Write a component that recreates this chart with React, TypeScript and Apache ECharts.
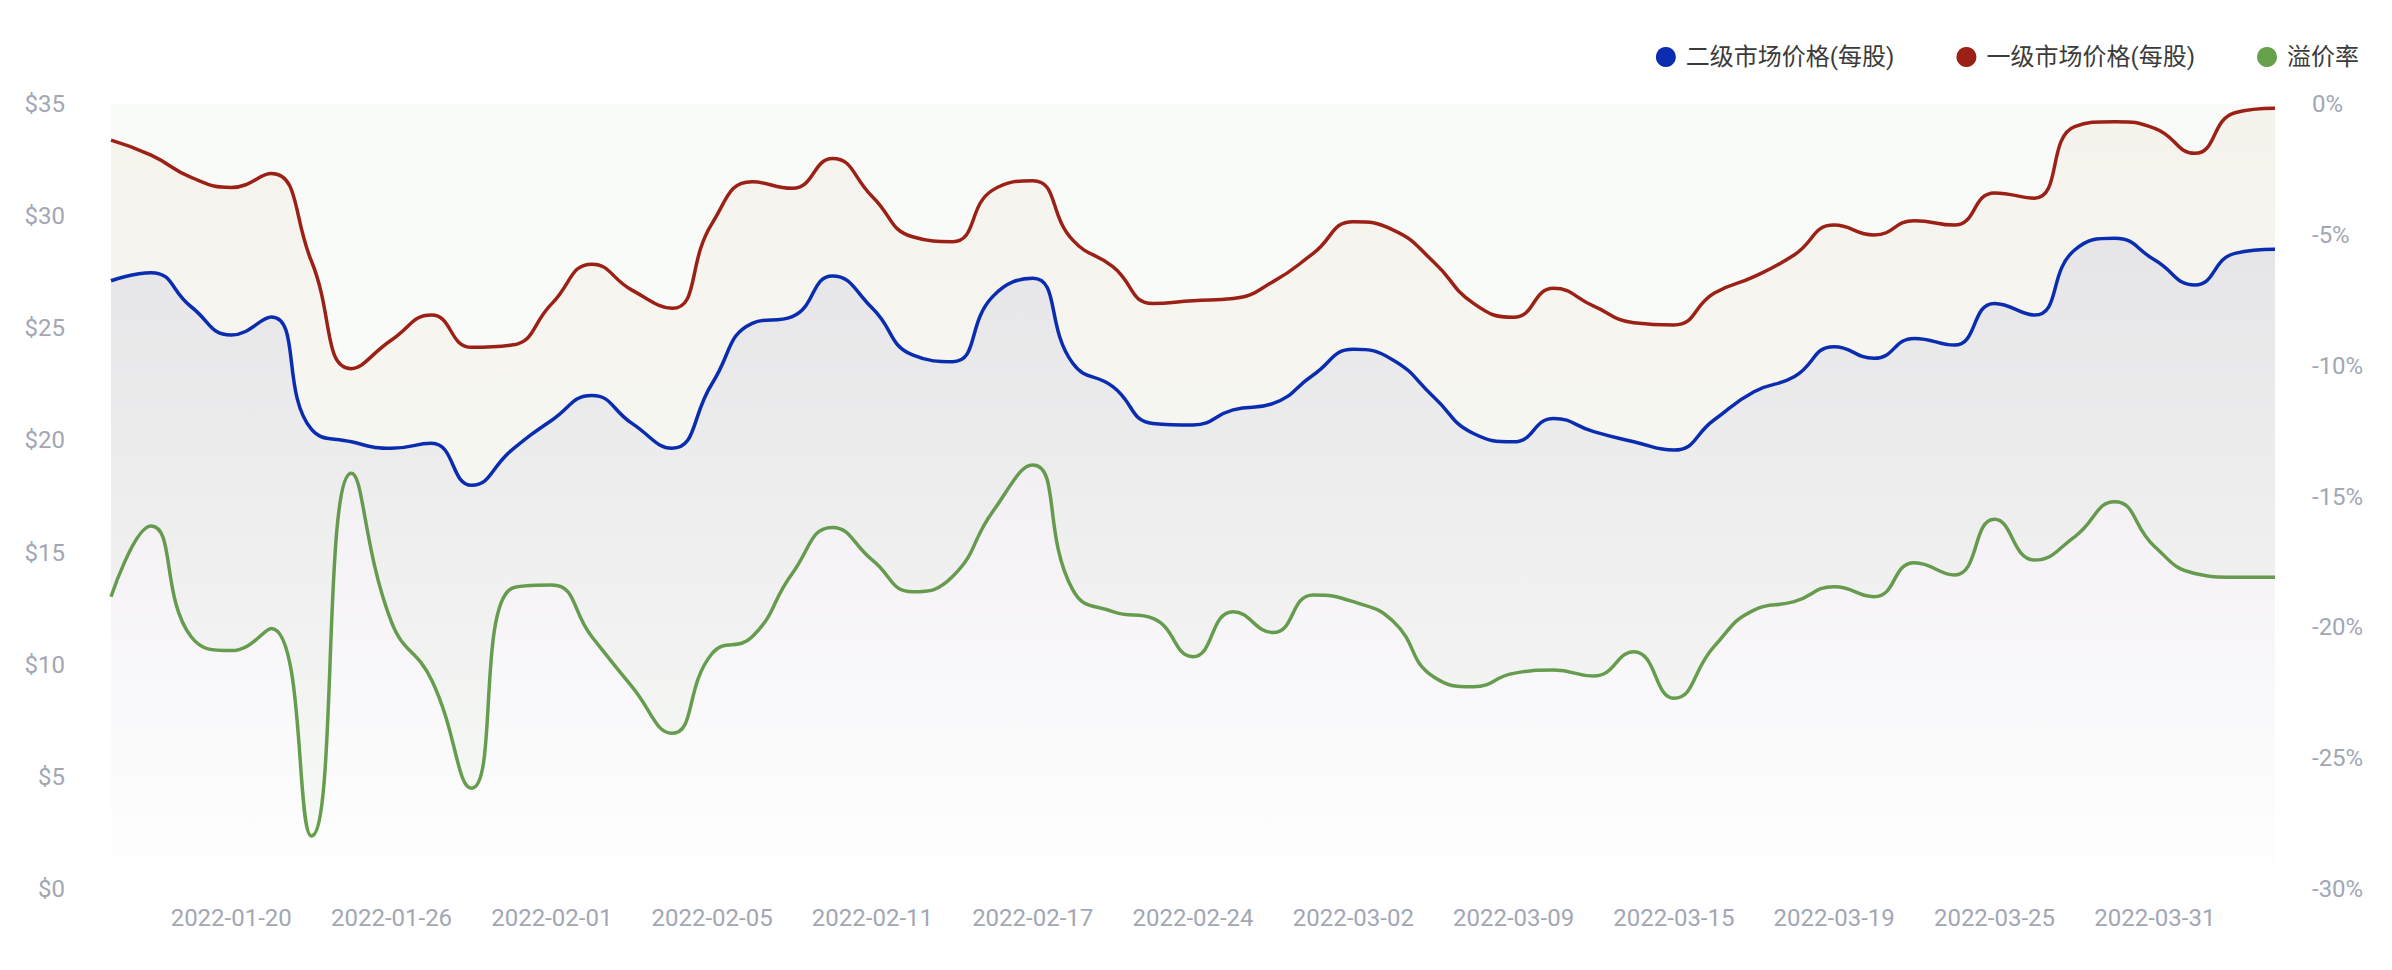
import React, { useEffect, useRef } from "react";
import * as echarts from "echarts";

const dates = [
  "2022-01-14", "2022-01-18", "2022-01-19", "2022-01-20", "2022-01-21", "2022-01-24", "2022-01-25",
  "2022-01-26", "2022-01-27", "2022-01-28", "2022-01-31", "2022-02-01", "2022-02-02", "2022-02-03",
  "2022-02-04", "2022-02-05", "2022-02-07", "2022-02-08", "2022-02-10", "2022-02-11", "2022-02-14",
  "2022-02-15", "2022-02-16", "2022-02-17", "2022-02-18", "2022-02-22", "2022-02-23", "2022-02-24",
  "2022-02-25", "2022-02-28", "2022-03-01", "2022-03-02", "2022-03-03", "2022-03-04", "2022-03-08",
  "2022-03-09", "2022-03-10", "2022-03-11", "2022-03-14", "2022-03-15", "2022-03-16", "2022-03-17",
  "2022-03-18", "2022-03-19", "2022-03-21", "2022-03-22", "2022-03-24", "2022-03-25", "2022-03-28",
  "2022-03-29", "2022-03-30", "2022-03-31", "2022-04-01", "2022-04-04", "2022-04-05",
];

const secondaryPrice = [
  27.12, 27.48, 25.96, 24.7, 25.5, 20.5, 19.94, 19.65, 19.87, 18.0, 19.57, 20.9, 22.0, 20.76,
  19.65, 22.54, 25.22, 25.52, 27.33, 25.89, 23.81, 23.51, 26.41, 27.23, 23.44, 22.4, 20.76, 20.69,
  21.36, 21.65, 22.92, 24.06, 23.58, 21.95, 20.31, 19.94, 20.98, 20.39, 19.94, 19.57, 20.91, 22.17,
  22.84, 24.18, 23.66, 24.55, 24.25, 26.11, 25.59, 28.49, 29.01, 28.04, 26.93, 28.34, 28.52,
];

const primaryPrice = [
  33.39, 32.72, 31.73, 31.28, 31.9, 28.0, 23.2, 24.48, 25.59, 24.15, 24.25, 26.1, 27.86, 26.7,
  25.89, 29.68, 31.53, 31.24, 32.57, 30.87, 29.08, 28.86, 31.16, 31.58, 28.93, 27.75, 26.11, 26.23,
  26.33, 27.08, 28.34, 29.75, 29.38, 27.97, 26.11, 25.49, 26.78, 25.99, 25.25, 25.15, 26.56, 27.3,
  28.27, 29.6, 29.16, 29.8, 29.6, 31.03, 30.8, 33.99, 34.21, 33.91, 32.8, 34.61, 34.81,
];

const premiumRate = [
  -18.83, -16.13, -20.36, -20.89, -20.04, -27.97, -14.11, -19.8, -22.01, -26.15, -18.51, -18.38,
  -20.36, -22.27, -24.05, -21.0, -20.36, -17.94, -16.18, -17.43, -18.64, -18.06, -15.58, -13.8,
  -18.57, -19.4, -19.66, -21.12, -19.4, -20.2, -18.76, -19.02, -19.78, -21.89, -22.27, -21.76,
  -21.63, -21.86, -20.93, -22.71, -20.74, -19.34, -19.02, -18.45, -18.83, -17.53, -18.0, -15.87,
  -17.43, -16.54, -15.2, -16.92, -17.94, -18.09, -18.09,
];

const seriesNames = ["二级市场价格(每股)", "一级市场价格(每股)", "溢价率"];

const FONT = "Roboto, 'Noto Sans CJK SC', sans-serif";
const LABEL_COLOR = "#a2a7b3";

export default function App() {
  const ref = useRef<HTMLDivElement>(null);

  useEffect(() => {
    document.body.style.margin = "0";
    if (!ref.current) return;
    const chart = echarts.init(ref.current, undefined, { renderer: "svg" });

    const grad = (r: number, g: number, b: number, a0: number, a1: number) =>
      new echarts.graphic.LinearGradient(0, 0, 0, 1, [
        { offset: 0, color: `rgba(${r},${g},${b},${a0})` },
        { offset: 1, color: `rgba(${r},${g},${b},${a1})` },
      ]);

    chart.setOption({
      animation: false,
      backgroundColor: "#ffffff",
      textStyle: { fontFamily: FONT },
      legend: {
        data: seriesNames,
        right: 28,
        top: 40,
        icon: "circle",
        itemWidth: 20,
        itemHeight: 20,
        itemGap: 62,
        textStyle: { fontSize: 24, color: "#3b3b3b", fontFamily: FONT, padding: [0, 0, 0, 5] },
      },
      grid: { left: 111, right: 117, top: 104, bottom: 81, containLabel: false },
      xAxis: {
        type: "category",
        data: dates,
        boundaryGap: false,
        axisLine: { show: false },
        axisTick: { show: false },
        splitLine: { show: false },
        axisLabel: {
          interval: (index: number) => index % 4 === 3,
          color: LABEL_COLOR,
          fontSize: 24,
          margin: 17,
          fontFamily: FONT,
        },
      },
      yAxis: [
        {
          type: "value",
          min: 0,
          max: 35,
          interval: 5,
          axisLine: { show: false },
          axisTick: { show: false },
          splitLine: { show: false },
          axisLabel: {
            formatter: "${value}",
            color: LABEL_COLOR,
            fontSize: 24,
            margin: 46,
            fontFamily: FONT,
          },
        },
        {
          type: "value",
          min: -30,
          max: 0,
          interval: 5,
          axisLine: { show: false },
          axisTick: { show: false },
          splitLine: { show: false },
          axisLabel: {
            formatter: "{value}%",
            color: LABEL_COLOR,
            fontSize: 24,
            margin: 37,
            fontFamily: FONT,
          },
        },
      ],
      series: [
        {
          name: seriesNames[0],
          type: "line",
          data: secondaryPrice,
          yAxisIndex: 0,
          smooth: true,
          showSymbol: false,
          z: 5,
          color: "#0a2db0",
          lineStyle: { width: 3.5, color: "#0a2db0" },
          areaStyle: { color: grad(60, 62, 160, 0.12, 0.0) },
        },
        {
          name: seriesNames[1],
          type: "line",
          data: primaryPrice,
          yAxisIndex: 0,
          smooth: true,
          showSymbol: false,
          z: 4,
          color: "#9b2116",
          lineStyle: { width: 3.5, color: "#9b2116" },
          areaStyle: { color: grad(205, 115, 80, 0.09, 0.0) },
        },
        {
          name: seriesNames[2],
          type: "line",
          data: premiumRate,
          yAxisIndex: 1,
          smooth: true,
          showSymbol: false,
          z: 3,
          color: "#65a04b",
          lineStyle: { width: 3.5, color: "#65a04b" },
          areaStyle: { color: "rgba(101,160,75,0.06)" },
        },
      ],
    });

    return () => {
      chart.dispose();
    };
  }, []);

  return <div ref={ref} style={{ width: 2392, height: 970 }} />;
}
